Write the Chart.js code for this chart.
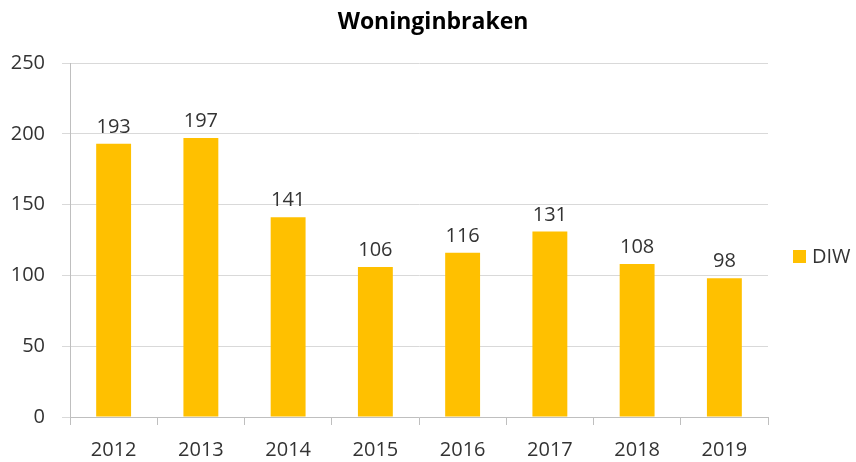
<!DOCTYPE html>
<html>
<head>
<meta charset="utf-8">
<script src="https://cdn.jsdelivr.net/npm/chart.js@4.4.1/dist/chart.umd.min.js"></script>
<style>
  html, body { margin: 0; padding: 0; background: #fff; }
  #wrap { width: 856px; height: 462px; }
</style>
</head>
<body>
<div id="wrap"><canvas id="chart" width="856" height="462"></canvas></div>
<script>
const years = ['2012', '2013', '2014', '2015', '2016', '2017', '2018', '2019']
const diw = [193, 197, 141, 106, 116, 131, 108, 98]
const yTicks = [0, 50, 100, 150, 200, 250]

const FONT = '"Open Sans", sans-serif'
const GOLD = '#FFC000'
const TEXT = '#333333'

// titel, gecentreerd over de hele afbeelding
const topTitle = {
  id: 'topTitle',
  afterDraw(chart) {
    const ctx = chart.ctx
    ctx.save()
    ctx.font = 'bold 23px ' + FONT
    ctx.fillStyle = '#000'
    ctx.textAlign = 'center'
    ctx.textBaseline = 'middle'
    ctx.fillText('Woninginbraken', 433, 22)
    ctx.restore()
  }
}

// waarden boven de staven
const valueLabels = {
  id: 'valueLabels',
  afterDatasetsDraw(chart) {
    const ctx = chart.ctx
    const meta = chart.getDatasetMeta(0)
    ctx.save()
    ctx.font = '20px ' + FONT
    ctx.fillStyle = TEXT
    ctx.textAlign = 'center'
    ctx.textBaseline = 'alphabetic'
    meta.data.forEach((bar, i) => {
      ctx.fillText(String(diw[i]), bar.x, bar.y - 11)
    })
    ctx.restore()
  }
}

// legenda rechts
const sideLegend = {
  id: 'sideLegend',
  afterDraw(chart) {
    const ctx = chart.ctx
    const ds = chart.data.datasets[0]
    ctx.save()
    ctx.fillStyle = ds.backgroundColor
    ctx.fillRect(793, 250, 13, 13)
    ctx.font = '20px ' + FONT
    ctx.fillStyle = TEXT
    ctx.textAlign = 'left'
    ctx.textBaseline = 'middle'
    ctx.fillText(ds.label, 812, 257)
    ctx.restore()
  }
}

new Chart(document.getElementById('chart'), {
  type: 'bar',
  data: {
    labels: years,
    datasets: [{
      label: 'DIW',
      data: diw,
      backgroundColor: GOLD,
      categoryPercentage: 1,
      barPercentage: 0.4
    }]
  },
  plugins: [topTitle, valueLabels, sideLegend],
  options: {
    responsive: false,
    animation: false,
    layout: { padding: { left: 0, right: 88, top: 63, bottom: 0 } },
    scales: {
      x: {
        offset: true,
        grid: {
          offset: true,
          drawOnChartArea: false,
          drawTicks: true,
          tickLength: 8,
          tickColor: '#bfbfbf'
        },
        border: { color: '#bfbfbf' },
        ticks: {
          color: TEXT,
          font: { family: FONT, size: 20 },
          padding: 13
        },
        afterFit(scale) { scale.height = 45 }
      },
      y: {
        min: 0,
        max: 250,
        afterBuildTicks(scale) { scale.ticks = yTicks.map(v => ({ value: v })) },
        grid: {
          color: '#d9d9d9',
          tickLength: 8,
          tickColor: '#d9d9d9'
        },
        border: { color: '#bfbfbf' },
        ticks: {
          color: TEXT,
          font: { family: FONT, size: 20 },
          padding: 17
        },
        afterFit(scale) { scale.width = 70 }
      }
    },
    plugins: {
      legend: { display: false },
      tooltip: { enabled: false },
      title: { display: false }
    }
  }
})
</script>
</body>
</html>
